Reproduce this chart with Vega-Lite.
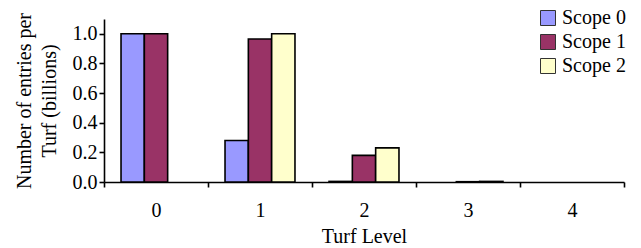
{
  "$schema": "https://vega.github.io/schema/vega-lite/v6.json",
  "width": 520,
  "height": 163,
  "autosize": {"type": "none"},
  "padding": {"left": 104, "top": 19, "right": 17, "bottom": 66},
  "background": "white",
  "config": {
    "view": {"stroke": null},
    "font": "Liberation Serif",
    "axis": {"labelFont": "Liberation Serif", "titleFont": "Liberation Serif", "labelColor": "black", "titleColor": "black", "domainColor": "black", "tickColor": "black", "titleFontWeight": "normal"},
    "legend": {"labelFont": "Liberation Serif"}
  },
  "data": {
    "values": [
      {"level": "0", "scope": "Scope 0", "value": 1.0},
      {"level": "0", "scope": "Scope 1", "value": 1.0},
      {"level": "1", "scope": "Scope 0", "value": 0.28},
      {"level": "1", "scope": "Scope 1", "value": 0.965},
      {"level": "1", "scope": "Scope 2", "value": 1.0},
      {"level": "2", "scope": "Scope 0", "value": 0.004},
      {"level": "2", "scope": "Scope 1", "value": 0.18},
      {"level": "2", "scope": "Scope 2", "value": 0.23},
      {"level": "3", "scope": "Scope 1", "value": 0.002},
      {"level": "3", "scope": "Scope 2", "value": 0.004}
    ]
  },
  "mark": {"type": "bar", "stroke": "black", "strokeWidth": 1.6},
  "encoding": {
    "x": {
      "field": "level", "type": "nominal",
      "scale": {"domain": ["0", "1", "2", "3", "4"], "paddingInner": 0, "paddingOuter": 0},
      "axis": {"title": "Turf Level", "labelAngle": 0, "labelFontSize": 20, "titleFontSize": 20, "tickBand": "extent", "tickSize": 5, "tickWidth": 1.6, "domainWidth": 1.6, "labelPadding": 13, "titlePadding": 6}
    },
    "xOffset": {
      "field": "scope", "type": "nominal",
      "scale": {"domain": ["Scope 0", "Scope 1", "Scope 2"], "paddingInner": 0, "paddingOuter": 0.73}
    },
    "y": {
      "field": "value", "type": "quantitative",
      "scale": {"domain": [0, 1.1], "nice": false},
      "axis": {"title": ["Number of entries per", "Turf (billions)"], "values": [0, 0.2, 0.4, 0.6, 0.8, 1.0], "format": ".1f", "grid": false, "labelFontSize": 20, "titleFontSize": 20, "titleLineHeight": 25, "tickSize": 5, "tickWidth": 1.6, "domainWidth": 1.6, "labelPadding": 2, "titlePadding": 13}
    },
    "fill": {
      "field": "scope", "type": "nominal",
      "scale": {"domain": ["Scope 0", "Scope 1", "Scope 2"], "range": ["#9999FF", "#993366", "#FFFFCC"]},
      "legend": {"title": null, "orient": "none", "legendX": 434, "legendY": -11, "symbolType": "square", "symbolSize": 225, "symbolStrokeColor": "#333333", "symbolStrokeWidth": 1, "labelFontSize": 20, "labelColor": "black", "rowPadding": 4, "labelOffset": 4}
    }
  }
}
